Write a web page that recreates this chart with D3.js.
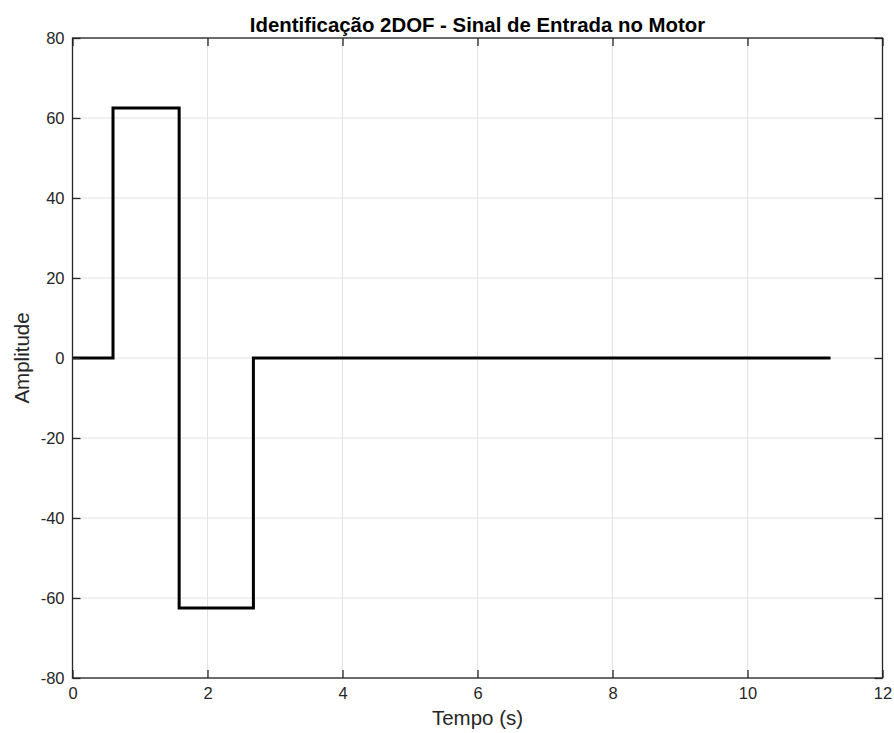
<!DOCTYPE html>
<html><head><meta charset="utf-8">
<script src="https://cdn.jsdelivr.net/npm/d3@7"></script>
<style>body{margin:0;background:#fff}svg{display:block}text{font-family:"Liberation Sans",Arial,sans-serif}</style>
</head><body>
<script>
const times = [0, 0.6, 0.6, 1.58, 1.58, 2.68, 2.68, 11.23];
const values = [0, 0, 62.5, 62.5, -62.5, -62.5, 0, 0];
const xTicks = [0, 2, 4, 6, 8, 10, 12];
const yTicks = [-80, -60, -40, -20, 0, 20, 40, 60, 80];
const title = "Identificação 2DOF - Sinal de Entrada no Motor";
const xLabel = "Tempo (s)";
const yLabel = "Amplitude";

const W = 894, H = 733;
const m = {l: 72.5, r: 894 - 882.5, t: 38, b: 733 - 678};
const svg = d3.select("body").append("svg").attr("width", W).attr("height", H);
const x = d3.scaleLinear().domain([0, 12]).range([m.l, W - m.r]);
const y = d3.scaleLinear().domain([-80, 80]).range([H - m.b, m.t]);

const grid = svg.append("g").attr("stroke", "#e3e3e3").attr("stroke-width", 1);
xTicks.forEach(t => grid.append("line").attr("x1", x(t)).attr("x2", x(t)).attr("y1", y(-80)).attr("y2", y(80)));
yTicks.forEach(t => grid.append("line").attr("x1", x(0)).attr("x2", x(12)).attr("y1", y(t)).attr("y2", y(t)));

const line = d3.line().x((d, i) => x(times[i])).y(d => y(d));
svg.append("path").datum(values).attr("d", line).attr("fill", "none").attr("stroke", "#000").attr("stroke-width", 3).attr("stroke-linejoin", "miter");

svg.append("rect").attr("x", x(0)).attr("y", y(80)).attr("width", x(12) - x(0)).attr("height", y(-80) - y(80))
  .attr("fill", "none").attr("stroke", "#262626").attr("stroke-width", 1.3);

const fmt = d => String(d);
const xa = svg.append("g").attr("transform", `translate(0,${y(-80)})`)
  .call(d3.axisBottom(x).tickValues(xTicks).tickSize(-8).tickPadding(9).tickFormat(fmt));
const xa2 = svg.append("g").attr("transform", `translate(0,${y(80)})`)
  .call(d3.axisTop(x).tickValues(xTicks).tickSize(-8).tickFormat(""));
const ya = svg.append("g").attr("transform", `translate(${x(0)},0)`)
  .call(d3.axisLeft(y).tickValues(yTicks).tickSize(-8).tickPadding(8).tickFormat(fmt));
const ya2 = svg.append("g").attr("transform", `translate(${x(12)},0)`)
  .call(d3.axisRight(y).tickValues(yTicks).tickSize(-8).tickFormat(""));
[xa, xa2, ya, ya2].forEach(g => {
  g.select(".domain").remove();
  g.selectAll(".tick line").attr("stroke", "#262626").attr("stroke-width", 1.3);
  g.selectAll("text").attr("fill", "#262626").attr("font-size", 16.5).attr("font-family", "Liberation Sans, Arial, sans-serif");
});

svg.append("text").attr("x", (x(0) + x(12)) / 2).attr("y", 32).attr("text-anchor", "middle")
  .attr("font-size", 20.4).attr("font-weight", "bold").attr("fill", "#000").text(title);
svg.append("text").attr("x", (x(0) + x(12)) / 2).attr("y", 725).attr("text-anchor", "middle")
  .attr("font-size", 20.5).attr("fill", "#262626").text(xLabel);
svg.append("text").attr("transform", `translate(29,${(y(80) + y(-80)) / 2}) rotate(-90)`).attr("text-anchor", "middle")
  .attr("font-size", 20.5).attr("fill", "#262626").text(yLabel);
</script>
</body></html>
